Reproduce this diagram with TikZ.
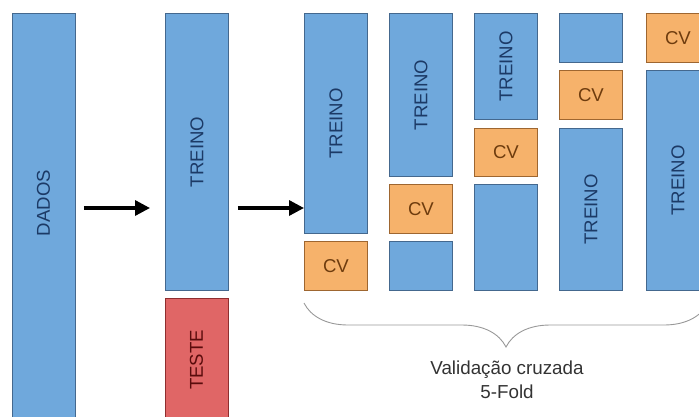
\documentclass[tikz,border=0pt]{standalone}
\usepackage{fontspec}
\setmainfont{Liberation Sans}
\usetikzlibrary{arrows.meta,decorations.pathreplacing}
\definecolor{bfill}{HTML}{6FA8DC}
\definecolor{bdraw}{HTML}{44688E}
\definecolor{btext}{HTML}{1C3A66}
\definecolor{ofill}{HTML}{F6B26B}
\definecolor{odraw}{HTML}{9E6630}
\definecolor{otext}{HTML}{6E3C0E}
\definecolor{rfill}{HTML}{E06666}
\definecolor{rdraw}{HTML}{8E2E2E}
\definecolor{rtext}{HTML}{5A0C0C}
\definecolor{capt}{HTML}{333333}
\tikzset{
  x=1pt, y=-1pt,
  lblfont/.style={font=\fontsize{18.6}{22}\selectfont},
  box/.style={draw, line width=0.9pt, anchor=north west, inner sep=0pt,
    minimum width=63pt, lblfont},
  bluebox/.style={box, fill=bfill, draw=bdraw, text=btext},
  orangebox/.style={box, fill=ofill, draw=odraw, text=otext},
  redbox/.style={box, fill=rfill, draw=rdraw, text=rtext},
  vlab/.style={label={[rotate=90, text=#1, lblfont, inner sep=0pt]center:TREINO}},
  arr/.style={-{Triangle[length=15pt,width=15pt]}, line width=3.3pt, black},
}
\begin{document}
\begin{tikzpicture}
\useasboundingbox (0,0) rectangle (699,416);
\clip (0,0) rectangle (699,416);
% DADOS
\node[bluebox, minimum height=420pt] (dados) at (12,13) {};
\node[rotate=90, text=btext, lblfont] (dadoslab) at (43.5,203) {DADOS};
% TREINO / TESTE
\node[bluebox, minimum height=277pt, vlab=btext] (treino) at (165,13) {};
\node[redbox, minimum height=124pt] (teste) at (165,298) {};
\node[rotate=90, text=rtext, lblfont] (testelab) at (196.5,360) {TESTE};
% column 1
\node[bluebox, minimum height=220pt, vlab=btext] (c1t) at (304,13) {};
\node[orangebox, minimum height=49pt] (c1v) at (304,241) {CV};
% column 2
\node[bluebox, minimum height=163pt, vlab=btext] (c2t) at (389,13) {};
\node[orangebox, minimum height=49pt] (c2v) at (389,184) {CV};
\node[bluebox, minimum height=49pt] (c2b) at (389,241) {};
% column 3
\node[bluebox, minimum height=106pt, vlab=btext] (c3t) at (474,13) {};
\node[orangebox, minimum height=48pt] (c3v) at (474,128) {CV};
\node[bluebox, minimum height=106pt] (c3b) at (474,184) {};
% column 4
\node[bluebox, minimum height=49pt] (c4a) at (559,13) {};
\node[orangebox, minimum height=49pt] (c4v) at (559,70) {CV};
\node[bluebox, minimum height=162pt, vlab=btext] (c4t) at (559,128) {};
% column 5
\node[orangebox, minimum height=49pt] (c5v) at (646,13) {CV};
\node[bluebox, minimum height=220pt, vlab=btext] (c5t) at (646,70) {};
% arrows
\draw[arr, shorten <=8pt, shorten >=15pt] (dados.east |- 0,208) -- (treino.west |- 0,208);
\draw[arr, shorten <=9pt] (treino.east |- 0,208) -- (c1t.west |- 0,208);
% brace
\coordinate (bl) at (304,303);
\coordinate (br) at (708,303);
\draw[decorate, decoration={brace, mirror, amplitude=44pt, aspect=0.5}, line width=0.9pt, draw=gray!80] (bl) -- (br);
\node[text=capt, align=center, font=\fontsize{18.8}{24}\selectfont] (caption) at (507,380) {Validação cruzada\\5-Fold};
\end{tikzpicture}
\end{document}
